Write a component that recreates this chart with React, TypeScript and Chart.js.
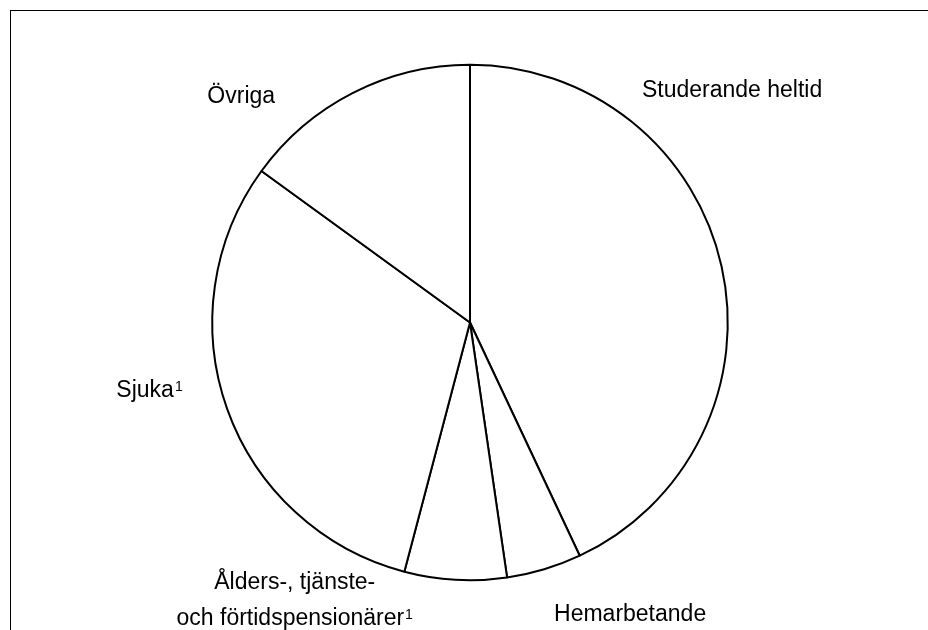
import React, { useEffect, useRef } from "react";
import { Chart, registerables } from "chart.js";

Chart.register(...registerables);

// ---- Data ----
const categories = [
  "Studerande heltid",
  "Hemarbetande",
  "Ålders-, tjänste- och förtidspensionärer",
  "Sjuka",
  "Övriga",
];
const shares = [43.0, 4.7, 6.4, 30.9, 15.0];
const labelLines = [
  ["Studerande heltid"],
  ["Hemarbetande"],
  ["Ålders-, tjänste-", "och förtidspensionärer"],
  ["Sjuka"],
  ["Övriga"],
];
const footnoteMarks = ["", "", "1", "1", ""];

// ---- Layout (label anchors relative to pie centre, in units of radius) ----
const labelLayout = [
  { dx: 0.667, dy: -0.874, align: "left" },
  { dx: 0.326, dy: 1.16, align: "left" },
  { dx: -0.68, dy: 1.034, align: "center" },
  { dx: -1.372, dy: 0.289, align: "left" },
  { dx: -1.019, dy: -0.851, align: "left" },
];

const FONT_FAMILY = "'Liberation Sans', Arial, Helvetica, sans-serif";
const FONT_SIZE = 23;
const SUP_SIZE = 14;
const SUP_RAISE = 6;
const LINE_GAP = 36;

const framePlugin = {
  id: "frame",
  beforeDraw(chart: any) {
    const ctx = chart.ctx;
    ctx.save();
    ctx.fillStyle = "#ffffff";
    ctx.fillRect(0, 0, chart.width, chart.height);
    ctx.strokeStyle = "#000000";
    ctx.lineWidth = 1;
    ctx.strokeRect(10.5, 10.5, 2000, 2000);
    ctx.restore();
  },
};

const labelPlugin = {
  id: "outerLabels",
  afterDraw(chart: any) {
    const ctx = chart.ctx;
    const meta = chart.getDatasetMeta(0);
    if (!meta.data.length) return;
    const { x, y, outerRadius } = meta.data[0].getProps(["x", "y", "outerRadius"], true);
    ctx.save();
    ctx.fillStyle = "#000000";
    ctx.textBaseline = "alphabetic";
    labelLines.forEach((lines, i) => {
      const lay = labelLayout[i];
      const ax = x + lay.dx * outerRadius;
      const ay = y + lay.dy * outerRadius;
      lines.forEach((line, li) => {
        const isLast = li === lines.length - 1;
        const mark = isLast ? footnoteMarks[i] : "";
        ctx.font = `${FONT_SIZE}px ${FONT_FAMILY}`;
        const w = ctx.measureText(line).width;
        ctx.font = `${SUP_SIZE}px ${FONT_FAMILY}`;
        const sw = mark ? ctx.measureText(mark).width + 1 : 0;
        const total = w + sw;
        const left = lay.align === "center" ? ax - total / 2 : ax;
        const by = ay + li * LINE_GAP;
        ctx.font = `${FONT_SIZE}px ${FONT_FAMILY}`;
        ctx.textAlign = "left";
        ctx.fillText(line, left, by);
        if (mark) {
          ctx.font = `${SUP_SIZE}px ${FONT_FAMILY}`;
          ctx.fillText(mark, left + w + 1, by - SUP_RAISE);
        }
      });
    });
    ctx.restore();
  },
};

export default function App() {
  const canvasRef = useRef<HTMLCanvasElement | null>(null);

  useEffect(() => {
    if (!canvasRef.current) return;
    const chart = new Chart(canvasRef.current, {
      type: "pie",
      data: {
        labels: categories,
        datasets: [
          {
            data: shares,
            backgroundColor: "#ffffff",
            borderColor: "#000000",
            borderWidth: 2,
            hoverBorderWidth: 2,
            borderAlign: "center",
          },
        ],
      },
      options: {
        responsive: false,
        animation: false,
        events: [],
        layout: {
          padding: { left: 211.25, right: 199.25, top: 63.75, bottom: 48.75 },
        },
        plugins: {
          legend: { display: false },
          tooltip: { enabled: false },
        },
      },
      plugins: [framePlugin, labelPlugin],
    });
    return () => chart.destroy();
  }, []);

  return (
    <div style={{ position: "fixed", left: 0, top: 0, width: 928, height: 630, background: "#fff" }}>
      <canvas ref={canvasRef} width={928} height={630} style={{ display: "block" }} />
    </div>
  );
}
